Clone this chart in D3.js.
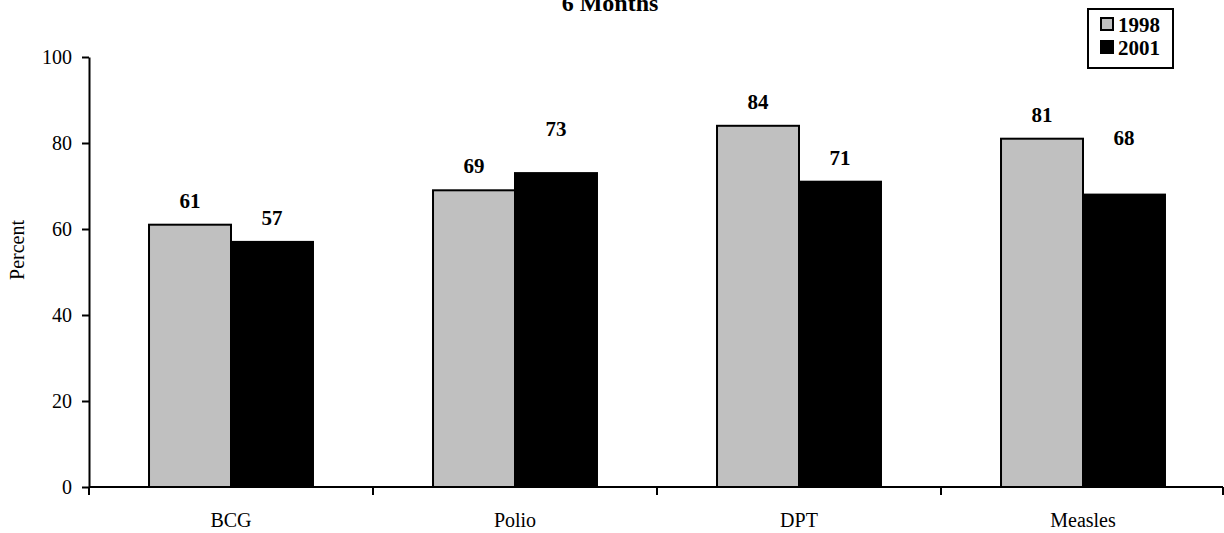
<!DOCTYPE html>
<html>
<head>
<meta charset="utf-8">
<script src="https://cdn.jsdelivr.net/npm/d3@7"></script>
<style>
  html, body { margin: 0; padding: 0; background: #fff; }
  svg { display: block; }
  text { font-family: "Liberation Serif", "Times New Roman", serif; fill: #000; }
</style>
</head>
<body>
<svg id="chart" width="1224" height="533"></svg>
<script>
const categories = ["BCG", "Polio", "DPT", "Measles"];
const seriesNames = ["1998", "2001"];
const values1998 = [61, 69, 84, 81];
const values2001 = [57, 73, 71, 68];
const yTicks = [0, 20, 40, 60, 80, 100];
const title = "6 Months";
const yLabel = "Percent";
const colors = ["#c0c0c0", "#000000"];

(function () {
const svg = d3.select("#chart");
const mLeft = 89, mRight = 1225, mTop = 57, mBottom = 487;
// extra lift (px) of some data labels, as placed in the original chart
const labelLift = [[0, 0, 0, 0], [0, 20, 0, 33]];

const x = d3.scaleBand().domain(categories).range([mLeft, mRight]).padding(0);
const xInner = d3.scaleBand().domain(seriesNames).range([0, x.bandwidth()])
  .paddingInner(0).paddingOuter(0.732);
const y = d3.scaleLinear().domain([0, 100]).range([mBottom, mTop]);

const series = [values1998, values2001];

// Bars
seriesNames.forEach((s, si) => {
  const d = categories.map((c, i) => ({ c, i, v: series[si][i] }));
  svg.append("g").selectAll("rect")
    .data(d)
    .join("rect")
    .attr("x", d => x(d.c) + xInner(s))
    .attr("y", d => y(d.v))
    .attr("width", xInner.bandwidth())
    .attr("height", d => y(0) - y(d.v))
    .attr("fill", colors[si])
    .attr("stroke", "#000")
    .attr("stroke-width", 2);

  svg.append("g").selectAll("text")
    .data(d)
    .join("text")
    .attr("x", d => x(d.c) + xInner(s) + xInner.bandwidth() / 2)
    .attr("y", d => y(d.v) - 17 - labelLift[si][d.i])
    .attr("text-anchor", "middle")
    .attr("font-weight", "bold")
    .attr("font-size", 21)
    .text(d => d.v);
});

// Y axis
const yAxis = svg.append("g")
  .attr("transform", `translate(${mLeft},0)`)
  .call(d3.axisLeft(y).tickValues(yTicks).tickSize(7).tickPadding(10).tickSizeOuter(0));
yAxis.select(".domain").attr("stroke-width", 2);
yAxis.selectAll(".tick line").attr("stroke-width", 2);
yAxis.selectAll(".tick text")
  .attr("font-size", 20)
  .attr("font-family", "'Liberation Serif', 'Times New Roman', serif");

// X axis
const xg = svg.append("g");
xg.append("line")
  .attr("x1", mLeft).attr("x2", mRight - 2)
  .attr("y1", y(0)).attr("y2", y(0))
  .attr("stroke", "#000").attr("stroke-width", 2);
const boundaries = categories.map(c => x(c)).concat([x(categories[categories.length - 1]) + x.bandwidth() - 2]);
xg.selectAll("line.tick")
  .data(boundaries)
  .join("line")
  .attr("class", "tick")
  .attr("x1", d => d).attr("x2", d => d)
  .attr("y1", y(0)).attr("y2", y(0) + 8)
  .attr("stroke", "#000").attr("stroke-width", 2);
xg.selectAll("text")
  .data(categories)
  .join("text")
  .attr("x", d => x(d) + x.bandwidth() / 2)
  .attr("y", 527)
  .attr("text-anchor", "middle")
  .attr("font-size", 20)
  .text(d => d);

// Y label
svg.append("text")
  .attr("transform", "translate(24,250) rotate(-90)")
  .attr("text-anchor", "middle")
  .attr("font-size", 20)
  .text(yLabel);

// Title
svg.append("text")
  .attr("x", 610).attr("y", 11)
  .attr("text-anchor", "middle")
  .attr("font-weight", "bold")
  .attr("font-size", 24)
  .text(title);

// Legend
const lg = svg.append("g");
lg.append("rect")
  .attr("x", 1088).attr("y", 9).attr("width", 85).attr("height", 59)
  .attr("fill", "#fff").attr("stroke", "#000").attr("stroke-width", 2);
seriesNames.forEach((s, i) => {
  lg.append("rect")
    .attr("x", 1101).attr("y", 18 + i * 23).attr("width", 12).attr("height", 12)
    .attr("fill", colors[i]).attr("stroke", "#000").attr("stroke-width", 2);
  lg.append("text")
    .attr("x", 1118).attr("y", 32 + i * 23)
    .attr("font-weight", "bold")
    .attr("font-size", 21)
    .text(s);
});
})();
</script>
</body>
</html>
